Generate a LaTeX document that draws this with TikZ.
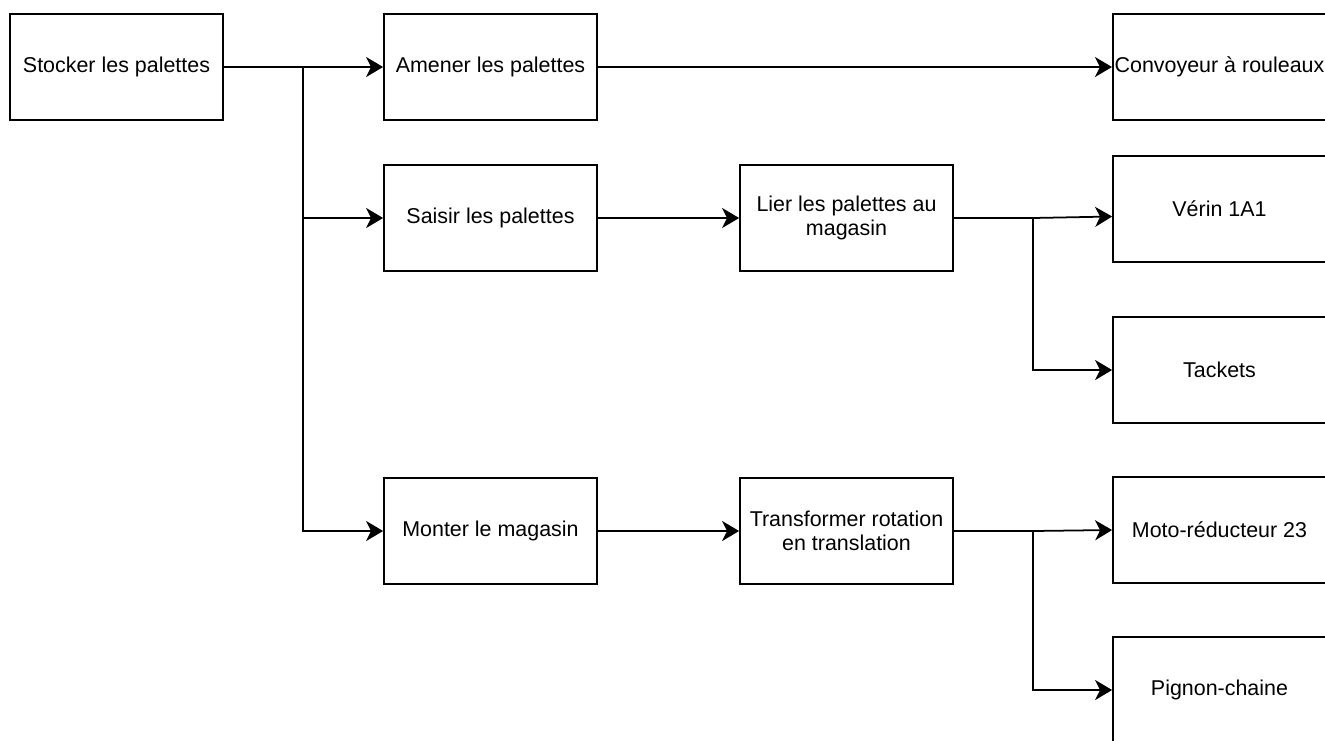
\documentclass[tikz,border=0pt]{standalone}
\usepackage{fontspec}
\setmainfont{Liberation Sans}
\usetikzlibrary{arrows.meta}

\tikzset{
  fbox/.style={draw, line width=1pt, minimum width=4.26cm, minimum height=2.12cm,
    align=center, inner sep=1pt, font=\fontsize{12.2}{13.5}\selectfont},
  arr/.style={line width=1pt, -{Stealth[length=3.4mm, width=4mm, inset=1mm]}}
}

\begin{document}
\begin{tikzpicture}
\useasboundingbox (0,0) rectangle (26.5,-14.8);

%Functions
\node[fbox] (stock) at (2.33,-1.34) {Stocker les palettes};
\node[fbox] (amener) at (9.81,-1.34) {Amener les palettes};
\node[fbox] (saisir) at (9.81,-4.36) {Saisir les palettes};
\node[fbox] (monter) at (9.81,-10.62) {Monter le magasin};
\node[fbox] (lier) at (16.93,-4.36) {Lier les palettes au\\magasin};
\node[fbox] (transf) at (16.93,-10.62) {Transformer rotation\\en translation};

%Solutions
\node[fbox] (convoy) at (24.39,-1.34) {Convoyeur à rouleaux};
\node[fbox] (verin) at (24.39,-4.18) {Vérin 1A1};
\node[fbox] (tackets) at (24.39,-7.40) {Tackets};
\node[fbox] (moto) at (24.39,-10.60) {Moto-réducteur 23};
\node[fbox] (pignon) at (24.39,-13.80) {Pignon-chaine};

%Junctions
\coordinate (jl) at (6.06,-1.34);
\coordinate (jr) at (20.66,-4.36);
\coordinate (jr2) at (20.66,-10.62);

%Arrows
\draw[arr] (stock) -- (amener);
\draw[arr] (jl) |- (saisir);
\draw[arr] (jl) |- (monter);
\draw[arr] (amener) -- (convoy);
\draw[arr] (saisir) -- (lier);
\draw[arr] (monter) -- (transf);
\draw[arr] (lier.east) -- (jr) -- ([yshift=-1.5mm]verin.west);
\draw[arr] (jr) |- (tackets);
\draw[arr] (transf.east) -- (jr2) -- (moto.west);
\draw[arr] (jr2) |- (pignon);
\end{tikzpicture}
\end{document}
